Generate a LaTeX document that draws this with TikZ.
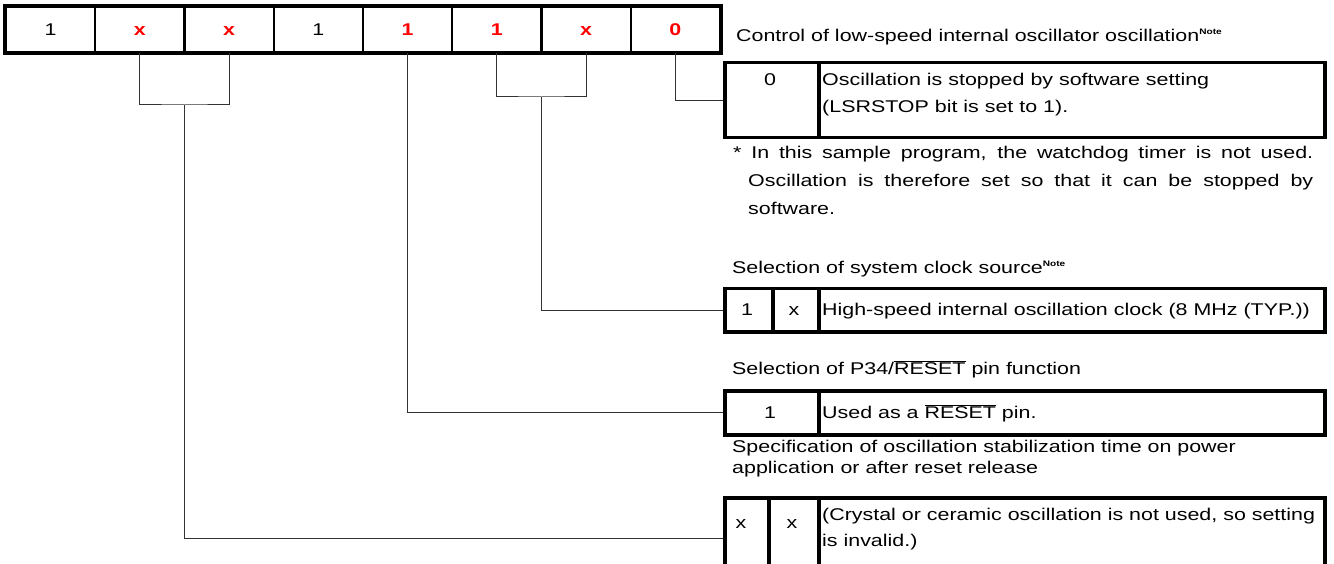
\documentclass[tikz,border=0pt]{standalone}
\usepackage{fontspec}
\setmainfont{Liberation Sans}[FakeStretch=1.26]
\newcommand\basefont{\fontsize{17}{20}\selectfont}
\newcommand\notesup{\raisebox{7pt}{\fontsize{8}{8}\selectfont\bfseries Note}}
\newcommand\rst{$\overline{\mbox{RESET}}$}
\begin{document}
\begin{tikzpicture}[x=1pt,y=-1pt,
  font=\basefont,
  cell/.style={draw, line width=2pt, minimum width=89.25pt, minimum height=45pt, inner sep=0pt, text height=12pt, text depth=0pt},
  hot/.style={text=red, font=\basefont\bfseries},
  tcell/.style={draw, line width=3.5pt, inner sep=0pt, anchor=north west},
  conn/.style={line width=1pt, draw=black!80},
  lbl/.style={anchor=base west, inner sep=0pt},
  mid/.style={anchor=base, inner sep=0pt}]
\useasboundingbox (0,0) rectangle (1334,564);
% register cells
\node[cell] (b7) at (50.6,29.5) {1};
\node[cell,hot] (b6) at (139.9,29.5) {x};
\node[cell,hot] (b5) at (229.1,29.5) {x};
\node[cell] (b4) at (318.4,29.5) {1};
\node[cell,hot] (b3) at (407.6,29.5) {1};
\node[cell,hot] (b2) at (496.9,29.5) {1};
\node[cell,hot] (b1) at (586.1,29.5) {x};
\node[cell,hot] (b0) at (675.4,29.5) {0};
\draw[line width=4pt] (b7.north west) rectangle (b0.south east);
% box 1
\node[tcell, minimum width=94pt, minimum height=75pt] (k1) at (723,61) {};
\node[tcell, minimum width=506pt, minimum height=75pt] (d1) at (817,61) {};
% box 2
\node[tcell, minimum width=48pt, minimum height=43pt] (k2a) at (723,287) {};
\node[tcell, minimum width=46pt, minimum height=43pt] (k2b) at (771,287) {};
\node[tcell, minimum width=506pt, minimum height=43pt] (d2) at (817,287) {};
% box 3
\node[tcell, minimum width=94pt, minimum height=44pt] (k3) at (723,389) {};
\node[tcell, minimum width=506pt, minimum height=44pt] (d3) at (817,389) {};
% box 4
\node[tcell, minimum width=44pt, minimum height=82pt] (k4a) at (723,496) {};
\node[tcell, minimum width=50pt, minimum height=82pt] (k4b) at (767,496) {};
\node[tcell, minimum width=506pt, minimum height=82pt] (d4) at (817,496) {};
% texts
\node[lbl] (h1) at (736,42) {Control of low-speed internal oscillator oscillation\notesup};
\node[mid] (t1k) at (770,86) {0};
\node[lbl] (t1a) at (822,86) {Oscillation is stopped by software setting};
\node[lbl] (t1b) at (822,113) {(LSRSTOP bit is set to 1).};
\node[lbl] (n1) at (733,159) {\makebox[580pt][s]{* In this sample program, the watchdog timer is not used.}};
\node[lbl] (n2) at (748,187) {\makebox[565pt][s]{Oscillation is therefore set so that it can be stopped by}};
\node[lbl] (n3) at (748,215) {software.};
\node[lbl] (h2) at (732,273) {Selection of system clock source\notesup};
\node[mid] (t2k1) at (747,316) {1};
\node[mid] (t2k2) at (794,316) {x};
\node[lbl] (t2) at (822,316) {High-speed internal oscillation clock (8 MHz (TYP.))};
\node[lbl] (h3) at (732,374) {Selection of P34/\rst{} pin function};
\node[mid] (t3k) at (770,418) {1};
\node[lbl] (t3) at (822,418) {Used as a \rst{} pin.};
\node[lbl] (h4a) at (732,452) {Specification of oscillation stabilization time on power};
\node[lbl] (h4b) at (732,473) {application or after reset release};
\node[mid] (t4k1) at (741,528) {x};
\node[mid] (t4k2) at (792,528) {x};
\node[lbl] (t4a) at (822,520) {(Crystal or ceramic oscillation is not used, so setting};
\node[lbl] (t4b) at (822,546) {is invalid.)};
% connectors
\coordinate (j65) at (184.5,105);
\coordinate (j21) at (541.5,97);
\draw[conn] (b6.south) |- (j65) -| (b5.south);
\draw[conn] (j65) |- (k4a.west);
\draw[conn] (b3.south) |- (k3.west);
\draw[conn] (b2.south) |- (j21) -| (b1.south);
\draw[conn] (j21) |- (k2a.west);
\draw[conn] (b0.south) |- (k1.west);
\end{tikzpicture}
\end{document}
